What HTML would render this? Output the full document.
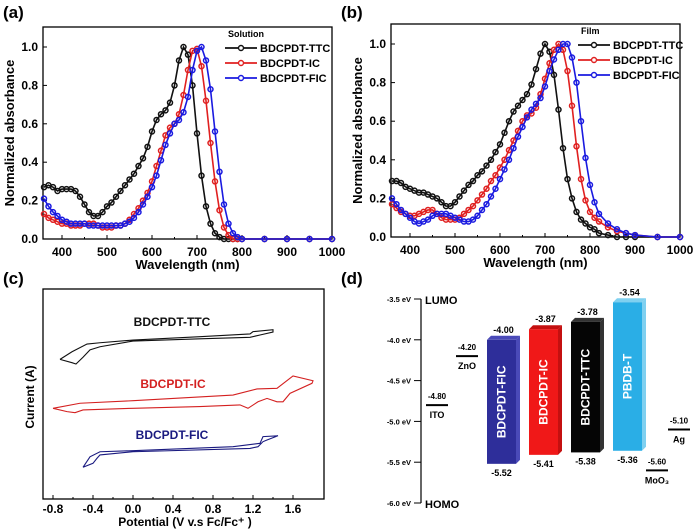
<!DOCTYPE html>
<html><head><meta charset="utf-8"><style>
html,body{margin:0;padding:0;background:#fff;}
svg{display:block;font-family:"Liberation Sans",Arial,sans-serif;}
text{font-weight:bold;}
</style></head><body>
<svg id="fig" width="696" height="530" viewBox="0 0 696 530" xmlns="http://www.w3.org/2000/svg">
<text x="3" y="18" font-size="17">(a)</text>
<text x="341" y="18" font-size="17">(b)</text>
<text x="3" y="284" font-size="17">(c)</text>
<text x="341" y="284" font-size="17">(d)</text>
<g id="ga"></g>
<g id="gb"></g>
<g id="gc"></g>
<g id="gd"></g>
</svg>
<script>
const NS="http://www.w3.org/2000/svg";
// ---- Absorbance data ----
const solWl=[360,370,380,390,400,410,420,430,440,450,460,470,480,490,500,510,520,530,540,550,560,570,580,590,600,610,620,630,640,650,660,670,680,690,700,710,720,730,740,750,760,770,780,790,800,850,900,950,1000];
const solTTC=[0.27,0.28,0.27,0.25,0.26,0.26,0.26,0.25,0.22,0.18,0.14,0.12,0.12,0.14,0.17,0.19,0.22,0.25,0.28,0.31,0.34,0.38,0.42,0.48,0.56,0.62,0.65,0.67,0.71,0.80,0.93,1.0,0.96,0.80,0.55,0.33,0.17,0.08,0.03,0.01,0,0,0,0,0,0,0,0,0];
const solIC=[0.13,0.11,0.10,0.09,0.08,0.08,0.07,0.07,0.07,0.08,0.08,0.08,0.07,0.06,0.06,0.06,0.07,0.07,0.08,0.10,0.13,0.16,0.20,0.24,0.30,0.38,0.46,0.54,0.58,0.60,0.65,0.75,0.88,0.98,0.99,0.90,0.72,0.50,0.30,0.15,0.06,0.02,0,0,0,0,0,0,0];
const solFIC=[0.21,0.17,0.14,0.12,0.10,0.09,0.08,0.08,0.08,0.08,0.07,0.07,0.07,0.07,0.07,0.07,0.07,0.07,0.08,0.09,0.11,0.14,0.18,0.22,0.27,0.33,0.41,0.49,0.55,0.60,0.62,0.66,0.74,0.88,0.98,1.0,0.93,0.78,0.56,0.35,0.18,0.08,0.03,0.01,0,0,0,0,0];
const filmWl=[360,370,380,390,400,410,420,430,440,450,460,470,480,490,500,510,520,530,540,550,560,570,580,590,600,610,620,630,640,650,660,670,680,690,700,710,720,730,740,750,760,770,780,790,800,810,820,840,860,880,900,950,1000];
const filmTTC=[0.29,0.29,0.28,0.26,0.25,0.24,0.23,0.23,0.22,0.21,0.20,0.18,0.16,0.16,0.18,0.21,0.24,0.27,0.29,0.32,0.34,0.37,0.40,0.44,0.48,0.54,0.60,0.65,0.68,0.71,0.74,0.79,0.87,0.95,1.0,0.96,0.84,0.66,0.46,0.30,0.20,0.13,0.09,0.07,0.05,0.04,0.02,0.01,0,0,0,0,0];
const filmIC=[0.17,0.15,0.13,0.12,0.11,0.11,0.12,0.13,0.14,0.14,0.12,0.10,0.09,0.09,0.09,0.10,0.12,0.14,0.16,0.19,0.22,0.25,0.29,0.32,0.36,0.40,0.45,0.50,0.55,0.60,0.63,0.64,0.67,0.74,0.82,0.90,0.97,1.0,0.97,0.86,0.68,0.47,0.30,0.19,0.13,0.10,0.08,0.05,0.03,0.02,0.01,0,0];
const filmFIC=[0.20,0.17,0.14,0.12,0.10,0.08,0.07,0.08,0.09,0.11,0.12,0.12,0.12,0.11,0.10,0.09,0.08,0.08,0.09,0.11,0.14,0.17,0.21,0.25,0.30,0.35,0.40,0.46,0.52,0.57,0.62,0.66,0.69,0.72,0.78,0.86,0.92,0.97,1.0,1.0,0.93,0.80,0.60,0.41,0.27,0.18,0.12,0.07,0.04,0.02,0.01,0,0];
const xTicks=[400,500,600,700,800,900,1000];
const yTicks=[0.0,0.2,0.4,0.6,0.8,1.0];
const seriesNames=["BDCPDT-TTC","BDCPDT-IC","BDCPDT-FIC"];
const seriesColors=["#111","#e02020","#1a1ae0"];

function el(tag,attrs,parent,txt){const e=document.createElementNS(NS,tag);for(const k in attrs)e.setAttribute(k,attrs[k]);if(txt!==undefined)e.textContent=txt;parent.appendChild(e);return e;}

function absChart(g,box,wl,series,title,lx,ly){
  const [L,T,R,B,x400,y1,y0]=box;
  const X=v=>x400+(v-400)*0.45;
  const Y=v=>y0-(y0-y1)*v;
  el('rect',{x:L,y:T,width:R-L,height:B-T,fill:'none',stroke:'#000','stroke-width':1.3},g);
  xTicks.forEach(t=>{el('line',{x1:X(t),x2:X(t),y1:B,y2:B-4,stroke:'#000'},g);
    const tx=el('text',{x:X(t),y:B+17,'font-size':12,'text-anchor':'middle'},g,String(t));
    });
  [450,550,650,750,850,950].forEach(t=>el('line',{x1:X(t),x2:X(t),y1:B,y2:B-2,stroke:'#000'},g));
  yTicks.forEach(t=>{el('line',{x1:L,x2:L+4,y1:Y(t),y2:Y(t),stroke:'#000'},g);
    const tx=el('text',{x:L-5,y:Y(t)+4,'font-size':12,'text-anchor':'end'},g,t.toFixed(1));
    });
  const xt=el('text',{x:(L+R)/2,y:B+30,'font-size':13,'text-anchor':'middle'},g,'Wavelength (nm)');
  
  const yt=el('text',{x:0,y:0,'font-size':13,'text-anchor':'middle',transform:`translate(${L-29},${(T+B)/2}) rotate(-90)`},g,'Normalized absorbance');
  
  series.forEach((s,i)=>{
    const pts=[];wl.forEach((w,j)=>{if(X(w)>=L-1)pts.push(X(w)+','+Y(s[j]));});
    const pl=el('polyline',{points:pts.join(' '),fill:'none',stroke:seriesColors[i],'stroke-width':1.6},g);
    
    
    wl.forEach((w,j)=>{if(X(w)<L-1)return;
      const c=el('circle',{cx:X(w),cy:Y(s[j]),r:2.5,fill:'none',stroke:seriesColors[i],'stroke-width':1.5},g);
      
      });
  });
  const lt=el('text',{x:lx,y:ly,'font-size':9},g,title);
  
  seriesNames.forEach((n,i)=>{const yy=ly+11+i*15;
    el('line',{x1:lx-3,x2:lx+29,y1:yy,y2:yy,stroke:seriesColors[i],'stroke-width':1.8},g);
    el('circle',{cx:lx+13,cy:yy,r:2.5,fill:'#fff',stroke:seriesColors[i],'stroke-width':1.4},g);
    const t=el('text',{x:lx+32,y:yy+4,'font-size':11},g,n);
    });
}
absChart(document.getElementById('ga'),[43,27,332,239,62,47,239],solWl,[solTTC,solIC,solFIC],'Solution',228,37);
absChart(document.getElementById('gb'),[391,24,680,237,410,44,237],filmWl,[filmTTC,filmIC,filmFIC],'Film',581,34);

// ---- CV data ----
const cvTTCv=[-0.73,-0.61,-0.46,-0.33,0.0,0.67,1.17,1.20,1.40,1.40,1.27,1.17,0.67,0.0,-0.33,-0.43,-0.50,-0.57,-0.61,-0.73];
const cvTTCi=[66.5,70.1,73.8,74.4,75.7,77.3,78.6,79.7,80.6,79.5,78.1,77.0,76.3,75.2,72.5,71.0,67.5,64.3,64.9,66.5];
const cvICv=[-0.80,-0.53,0.0,1.0,1.24,1.44,1.60,1.80,1.79,1.57,1.50,1.44,1.34,1.25,1.15,1.07,0.67,0.0,-0.50,-0.58,-0.66,-0.80];
const cvICi=[43.2,45.6,46.8,49.5,52.4,52.7,58.6,56.3,55.1,50.3,46.3,46.3,47.9,46.3,43.2,44.8,44.0,43.2,42.4,41.1,41.6,43.2];
const cvFICv=[-0.50,-0.43,-0.33,0.0,1.0,1.27,1.30,1.45,1.34,1.30,1.25,1.17,0.0,-0.33,-0.36,-0.40,-0.50];
const cvFICi=[15.1,20.1,22.5,23.0,24.9,26.5,29.7,30.1,28.1,27.3,24.9,24.1,22.5,21.0,19.4,17.0,15.1];
const cvTicks=[-0.8,-0.4,0.0,0.4,0.8,1.2,1.6];
(function(){
  const g=document.getElementById('gc');
  const L=43,T=289,R=324,B=499;
  const X=v=>133+v*100, Y=v=>B-v*2.1;
  el('rect',{x:L,y:T,width:R-L,height:B-T,fill:'none',stroke:'#000','stroke-width':1.3},g);
  cvTicks.forEach(t=>{el('line',{x1:X(t),x2:X(t),y1:B,y2:B-4,stroke:'#000'},g);
    const tx=el('text',{x:X(t),y:B+14,'font-size':12,'text-anchor':'middle'},g,t.toFixed(1));
    });
  [-0.6,-0.2,0.2,0.6,1.0,1.4].forEach(t=>el('line',{x1:X(t),x2:X(t),y1:B,y2:B-2,stroke:'#000'},g));
  const xt=el('text',{x:185,y:526,'font-size':12,'text-anchor':'middle'},g,'Potential (V v.s Fc/Fc⁺ )');
  
  const yt=el('text',{x:0,y:0,'font-size':12,'text-anchor':'middle',transform:'translate(34,397) rotate(-90)'},g,'Current (A)');
  
  const sets=[[cvTTCv,cvTTCi,'#111','BDCPDT-TTC',172,326],[cvICv,cvICi,'#d42020','BDCPDT-IC',173,388],[cvFICv,cvFICi,'#1a1a80','BDCPDT-FIC',172,439]];
  sets.forEach(s=>{
    const pts=s[0].map((v,j)=>X(v)+','+Y(s[1][j])).join(' ');
    const p=el('polyline',{points:pts,fill:'none',stroke:s[2],'stroke-width':1.1},g);
    
    
    const t=el('text',{x:s[4],y:s[5],'font-size':12,'text-anchor':'middle',fill:s[2]},g,s[3]);
    
  });
})();

// ---- Energy levels ----
const barNames=["BDCPDT-FIC","BDCPDT-IC","BDCPDT-TTC","PBDB-T"];
const barLumo=[-4.00,-3.87,-3.78,-3.54];
const barHomo=[-5.52,-5.41,-5.38,-5.36];
const barColors=["#2e2e9a","#f01818","#050505","#2aaee6"];
const barSides=["#4a4ab8","#c41010","#333","#7fd0f0"];
const elecNames=["ITO","ZnO","Ag","MoO₃"];
const elecLevels=[-4.80,-4.20,-5.10,-5.60];
const axisTicks=[-3.5,-4.0,-4.5,-5.0,-5.5,-6.0];
(function(){
  const g=document.getElementById('gd');
  const Y=e=>299+(-3.5-e)*81.6;
  el('line',{x1:421,x2:421,y1:Y(-3.5),y2:Y(-6.0),stroke:'#000','stroke-width':1.2},g);
  axisTicks.forEach(t=>{el('line',{x1:414,x2:421,y1:Y(t),y2:Y(t),stroke:'#000'},g);
    const tx=el('text',{x:411,y:Y(t)+3,'font-size':7.5,'text-anchor':'end'},g,t.toFixed(1)+' eV');
    });
  let t=el('text',{x:425,y:Y(-3.5)+5,'font-size':11},g,'LUMO');
  t=el('text',{x:425,y:Y(-6.0)+5,'font-size':11},g,'HOMO');
  const barX=[487,529,571,613], W=29, D=4;
  barNames.forEach((n,i)=>{
    const x=barX[i], y1=Y(barLumo[i]), y2=Y(barHomo[i]);
    el('polygon',{points:`${x+W},${y1} ${x+W+D},${y1-D} ${x+W+D},${y2-D} ${x+W},${y2}`,fill:barSides[i]},g);
    el('polygon',{points:`${x},${y1} ${x+D},${y1-D} ${x+W+D},${y1-D} ${x+W},${y1}`,fill:barSides[i]},g);
    const r=el('rect',{x:x,y:y1,width:W,height:y2-y1,fill:barColors[i]},g);
    
    const bt=el('text',{x:0,y:0,'font-size':12,fill:'#fff','text-anchor':'middle',transform:`translate(${x+W/2+4},${(y1+y2)/2}) rotate(-90)`},g,n);
    
    const lt=el('text',{x:x+W/2+2,y:y1-7,'font-size':9,'text-anchor':'middle'},g,barLumo[i].toFixed(2));
    
    const ht=el('text',{x:x+W/2,y:y2+12,'font-size':9,'text-anchor':'middle'},g,barHomo[i].toFixed(2));
    
  });
  const ex=[426,456,668,646];
  elecNames.forEach((n,i)=>{
    const y=Y(elecLevels[i]);
    el('line',{x1:ex[i],x2:ex[i]+22,y1:y,y2:y,stroke:'#000','stroke-width':2},g);
    const a=el('text',{x:ex[i]+11,y:y-6,'font-size':8,'text-anchor':'middle'},g,elecLevels[i].toFixed(2));
    
    const b=el('text',{x:ex[i]+11,y:y+13,'font-size':9,'text-anchor':'middle'},g,n);
    
  });
})();
</script>
</body></html>
